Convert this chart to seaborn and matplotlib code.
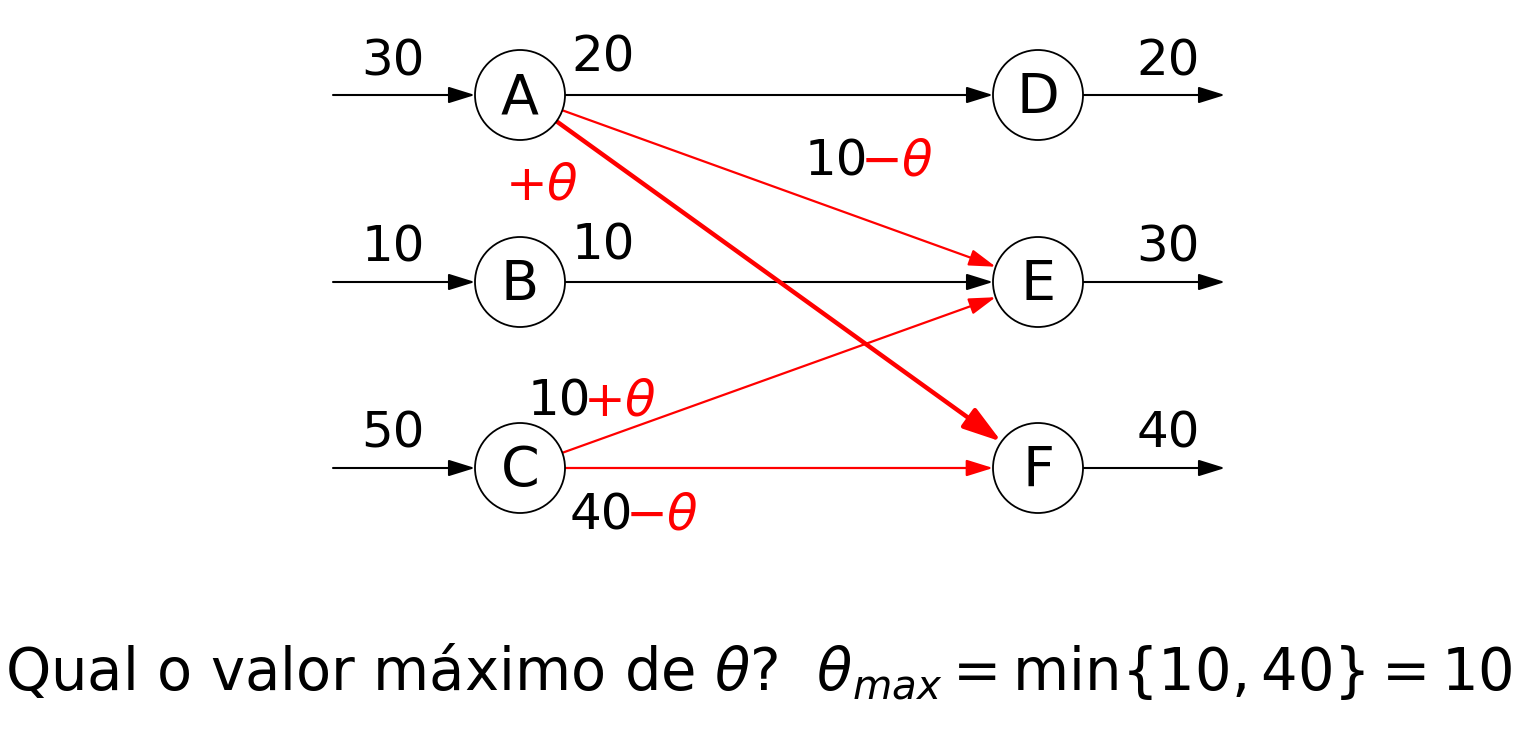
import matplotlib
matplotlib.use("Agg")
import matplotlib.pyplot as plt
import seaborn as sns
from matplotlib.patches import Circle

sns.set_theme(style="white")
plt.rcParams['font.family'] = ['DejaVu Sans']
plt.rcParams['mathtext.fontset'] = 'dejavusans'
plt.rcParams['text.color'] = 'black'

nodes = ["A", "B", "C", "D", "E", "F"]
supply = [30, 10, 50]
demand = [20, 30, 40]
black_edges = [("A", "D", "20"), ("B", "E", "10")]
red_edges = [("A", "E", 1.6), ("A", "F", 3.2), ("C", "E", 1.6), ("C", "F", 1.6)]

pos = {"A": (520, 95), "B": (520, 282), "C": (520, 468),
       "D": (1038, 95), "E": (1038, 282), "F": (1038, 468)}
R = 45
fs = 36

fig = plt.figure(figsize=(15.39, 7.3), dpi=100)
ax = fig.add_axes([0, 0, 1, 1])
ax.set_xlim(0, 1539); ax.set_ylim(730, 0); ax.axis("off")

shr = R * 72 / 100
def arrow(p, q, color, lw, sa=0, sb=shr, ms=18):
    ax.annotate("", xy=q, xytext=p,
                arrowprops=dict(arrowstyle="-|>,head_length=0.9,head_width=0.28", color=color, lw=lw,
                                shrinkA=sa, shrinkB=sb, mutation_scale=ms))

for n in nodes:
    x, y = pos[n]
    ax.add_patch(Circle((x, y), R, fc="white", ec="black", lw=1.3, zorder=5))
    ax.text(x, y + 3, n, ha="center", va="center", fontsize=40, zorder=6)

for n, s in zip(["A", "B", "C"], supply):
    x, y = pos[n]
    arrow((333, y), (x, y), "black", 1.5)
    ax.text(393, y - 10, str(s), ha="center", va="bottom", fontsize=fs)
for n, d in zip(["D", "E", "F"], demand):
    x, y = pos[n]
    arrow((x, y), (1225, y), "black", 1.5, sa=shr, sb=0)
    ax.text(1168, y - 10, str(d), ha="center", va="bottom", fontsize=fs)

for a, b, lab in black_edges:
    arrow(pos[a], pos[b], "black", 1.5, sa=shr)
for a, b, lw in red_edges:
    arrow(pos[a], pos[b], "red", lw, sa=shr, ms=18 if lw < 2 else 26)

ax.text(603, 82, "20", ha="center", va="bottom", fontsize=fs)
ax.text(603, 270, "10", ha="center", va="bottom", fontsize=fs)

def two(x, y, s1, s2):
    t = ax.text(x, y, s1, ha="left", va="baseline", fontsize=fs, color="black")
    ax.annotate(s2, xy=(1, 0), xycoords=t, xytext=(-6, 0), textcoords="offset points",
                ha="left", va="bottom", fontsize=fs, color="red")

two(805, 175, "10", r"$-\theta$")
two(528, 415, "10", r"$+\theta$")
two(570, 530, "40", r"$-\theta$")
ax.text(505, 200, r"$+\theta$", ha="left", va="baseline", fontsize=fs, color="red")

ax.text(5, 690, r"Qual o valor máximo de $\theta$?  $\theta_{max} = \mathrm{min}\{10, 40\} = 10$",
        ha="left", va="baseline", fontsize=41.5)

fig.savefig("out.png", dpi=100)
